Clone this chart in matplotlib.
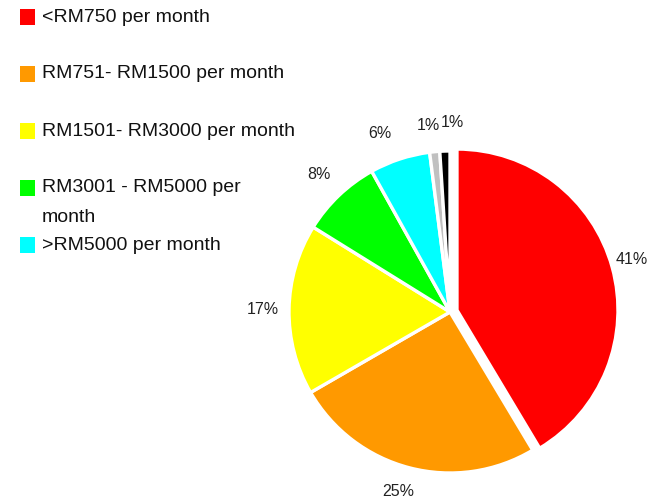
import matplotlib
matplotlib.use("Agg")
import matplotlib.pyplot as plt
from matplotlib.patches import Rectangle
import numpy as np

plt.rcParams['font.family'] = ['Liberation Sans', 'DejaVu Sans']

values = [41, 25, 17, 8, 6, 1, 1]
pct_labels = ['41%', '25%', '17%', '8%', '6%', '1%', '1%']
colors = ['#FF0000', '#FF9900', '#FFFF00', '#00FF00', '#00FFFF', '#C0C0C0', '#000000']
legend_labels = ['<RM750 per month', 'RM751- RM1500 per month', 'RM1501- RM3000 per month',
                 'RM3001 - RM5000 per\nmonth', '>RM5000 per month']
explode_frac = [0.045, 0, 0, 0, 0, 0, 0]

W, H = 649, 500
fig = plt.figure(figsize=(W / 100, H / 100), dpi=100)
ax = fig.add_axes([0, 0, 1, 1])

cx, cy, R = 450, 188, 161
wedges, texts = ax.pie(values, colors=colors, startangle=90, counterclock=False,
                       explode=[e * R for e in explode_frac], center=(cx, cy), radius=R,
                       normalize=True,
                       wedgeprops=dict(edgecolor='white', linewidth=2.4),
                       labels=pct_labels, labeldistance=1.15,
                       textprops=dict(fontsize=11.5, color='#222222'))
ax.set_aspect('auto')
ax.set_xlim(0, W)
ax.set_ylim(0, H)
ax.axis('off')
# small label nudges (pixels) so labels sit where the reference puts them
nudges = [(-4, 1), (-5, 0), (-2, 0), (-3, 4), (-12, 3), (-4, 2), (8, 4)]
for t, (dx, dy) in zip(texts, nudges):
    t.set_ha('center')
    t.set_va('center')
    x, y = t.get_position()
    t.set_position((x + dx, y + dy))

# legend
for i, (lab, col) in enumerate(zip(legend_labels, colors)):
    ytop = H - (9 + 57 * i)
    ax.add_patch(Rectangle((20, ytop - 16), 15, 16, facecolor=col, edgecolor='none'))
    for j, line in enumerate(lab.split('\n')):
        ax.text(42, ytop - 8 - 30 * j, line, fontsize=14, ha='left', va='center',
                color='#111111')

fig.savefig('out.png', dpi=100)
